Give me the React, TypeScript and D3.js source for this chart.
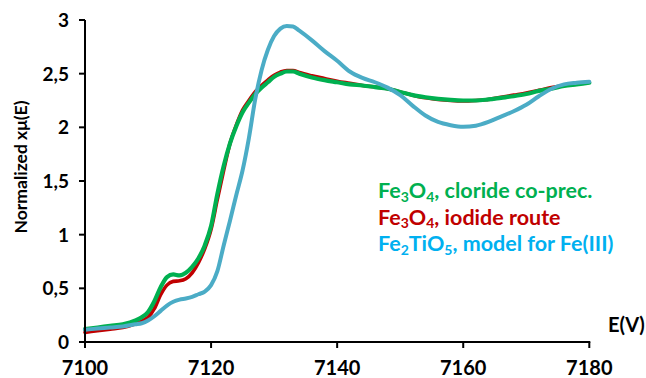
import React from "react";
import * as d3 from "d3";

// Photon energy grid (eV) shared by the three XANES spectra
const energy = [
  7100, 7102, 7104, 7106, 7108, 7109, 7110, 7111, 7112, 7113, 7114, 7115, 7116,
  7117, 7118, 7119, 7120, 7121, 7122, 7123, 7124, 7125, 7126, 7127, 7128, 7129,
  7130, 7131, 7132, 7133, 7134, 7136, 7138, 7140, 7142, 7144, 7146, 7148, 7150,
  7152, 7154, 7156, 7158, 7160, 7162, 7164, 7166, 7168, 7170, 7172, 7174, 7176,
  7178, 7180,
];

// Fe3O4, chloride co-precipitation
const chlorideSeries = [
  0.12, 0.135, 0.15, 0.165, 0.2, 0.23, 0.28, 0.38, 0.51, 0.605, 0.63, 0.62, 0.645,
  0.7, 0.78, 0.9, 1.08, 1.38, 1.64, 1.85, 2.01, 2.14, 2.23, 2.31, 2.37, 2.42,
  2.47, 2.5, 2.52, 2.52, 2.5, 2.465, 2.44, 2.42, 2.4, 2.39, 2.375, 2.36, 2.33,
  2.3, 2.28, 2.265, 2.255, 2.25, 2.25, 2.26, 2.275, 2.29, 2.31, 2.34, 2.36, 2.385,
  2.4, 2.415,
];

// Fe3O4, iodide route
const iodideSeries = [
  0.09, 0.105, 0.12, 0.135, 0.17, 0.195, 0.23, 0.31, 0.44, 0.53, 0.565, 0.57, 0.59,
  0.645, 0.74, 0.87, 1.05, 1.33, 1.6, 1.85, 2.02, 2.16, 2.25, 2.33, 2.39, 2.44,
  2.485, 2.515, 2.53, 2.53, 2.51, 2.48, 2.455, 2.43, 2.41, 2.39, 2.375, 2.36, 2.33,
  2.3, 2.275, 2.26, 2.25, 2.245, 2.25, 2.26, 2.28, 2.3, 2.32, 2.345, 2.37, 2.39,
  2.405, 2.42,
];

// Fe2TiO5 reference for Fe(III)
const fe2tio5Series = [
  0.115, 0.125, 0.135, 0.145, 0.165, 0.175, 0.2, 0.24, 0.29, 0.34, 0.375, 0.395,
  0.405, 0.42, 0.445, 0.47, 0.53, 0.66, 0.9, 1.13, 1.37, 1.6, 1.9, 2.26, 2.53,
  2.72, 2.85, 2.92, 2.945, 2.94, 2.9, 2.81, 2.71, 2.62, 2.52, 2.46, 2.42, 2.37,
  2.3, 2.2, 2.11, 2.05, 2.02, 2.005, 2.015, 2.05, 2.1, 2.15, 2.21, 2.29, 2.36,
  2.4, 2.415, 2.425,
];

const xTicks = [7100, 7120, 7140, 7160, 7180];
const yTicks = [0, 0.5, 1, 1.5, 2, 2.5, 3];

const W = 646;
const H = 378;
const FONT = "Lato, 'Open Sans', sans-serif";

const x = d3.scaleLinear().domain([7100, 7180]).range([85, 589.3]);
const y = d3.scaleLinear().domain([0, 3]).range([342, 20]);

const fmt = (v: number) => String(v).replace(".", ",");

function pathFor(values: number[]) {
  const pts: [number, number][] = energy.map((e, i) => [e, values[i]]);
  return (
    d3
      .line<[number, number]>()
      .x((d) => x(d[0]))
      .y((d) => y(d[1]))
      .curve(d3.curveMonotoneX)(pts) || ""
  );
}

const series = [
  { values: iodideSeries, color: "#C00000", width: 3.6 },
  { values: chlorideSeries, color: "#00B050", width: 4.2 },
  { values: fe2tio5Series, color: "#4BACC6", width: 4 },
];

function LegendLine({
  yPos,
  color,
  parts,
}: {
  yPos: number;
  color: string;
  parts: { t: string; sub?: boolean }[];
}) {
  return (
    <text x={378} y={yPos} fill={color} fontFamily={FONT} fontWeight={700} fontSize={21.5}>
      {parts.map((p, i) =>
        p.sub ? (
          <tspan key={i} fontSize={14} dy={3.5}>
            {p.t}
          </tspan>
        ) : (
          <tspan key={i} dy={i > 0 && parts[i - 1].sub ? -3.5 : 0}>
            {p.t}
          </tspan>
        )
      )}
    </text>
  );
}

export default function App() {
  return (
    <svg
      width={W}
      height={H}
      style={{ position: "absolute", left: 0, top: 0, background: "#fff" }}
    >
      <rect width={W} height={H} fill="#fff" />

      {/* spectra */}
      {series.map((s, i) => (
        <path
          key={i}
          d={pathFor(s.values)}
          fill="none"
          stroke={s.color}
          strokeWidth={s.width}
          strokeLinejoin="round"
          strokeLinecap="round"
        />
      ))}

      {/* y axis */}
      <line x1={x(7100)} x2={x(7100)} y1={y(3)} y2={y(0)} stroke="#000" strokeWidth={2} />
      {yTicks.map((t) => (
        <g key={t}>
          <line x1={x(7100) - 6} x2={x(7100)} y1={y(t)} y2={y(t)} stroke="#000" strokeWidth={2} />
          <text
            x={69}
            y={y(t)}
            dy="0.36em"
            textAnchor="end"
            fontFamily={FONT}
            fontWeight={700}
            fontSize={19}
            fill="#000"
          >
            {fmt(t)}
          </text>
        </g>
      ))}

      {/* x axis */}
      <line x1={x(7100) - 1} x2={x(7180) + 1} y1={y(0)} y2={y(0)} stroke="#000" strokeWidth={2} />
      {xTicks.map((t) => (
        <g key={t}>
          <line x1={x(t)} x2={x(t)} y1={y(0)} y2={y(0) + 6} stroke="#000" strokeWidth={2} />
          <text
            x={x(t)}
            y={375}
            textAnchor="middle"
            fontFamily={FONT}
            fontWeight={700}
            fontSize={20}
            fill="#000"
          >
            {t}
          </text>
        </g>
      ))}

      {/* axis titles */}
      <text
        transform="translate(27,167) rotate(-90)"
        textAnchor="middle"
        fontFamily={FONT}
        fontWeight={700}
        fontSize={17.5}
        fill="#000"
      >
        Normalized xμ(E)
      </text>
      <text x={608} y={332} fontFamily={FONT} fontWeight={700} fontSize={20} fill="#000">
        E(V)
      </text>

      {/* legend */}
      <LegendLine
        yPos={198}
        color="#00B050"
        parts={[{ t: "Fe" }, { t: "3", sub: true }, { t: "O" }, { t: "4", sub: true }, { t: ", cloride co-prec." }]}
      />
      <LegendLine
        yPos={224.5}
        color="#C00000"
        parts={[{ t: "Fe" }, { t: "3", sub: true }, { t: "O" }, { t: "4", sub: true }, { t: ", iodide route" }]}
      />
      <LegendLine
        yPos={251}
        color="#00B0F0"
        parts={[{ t: "Fe" }, { t: "2", sub: true }, { t: "TiO" }, { t: "5", sub: true }, { t: ", model for Fe(III)" }]}
      />
    </svg>
  );
}
